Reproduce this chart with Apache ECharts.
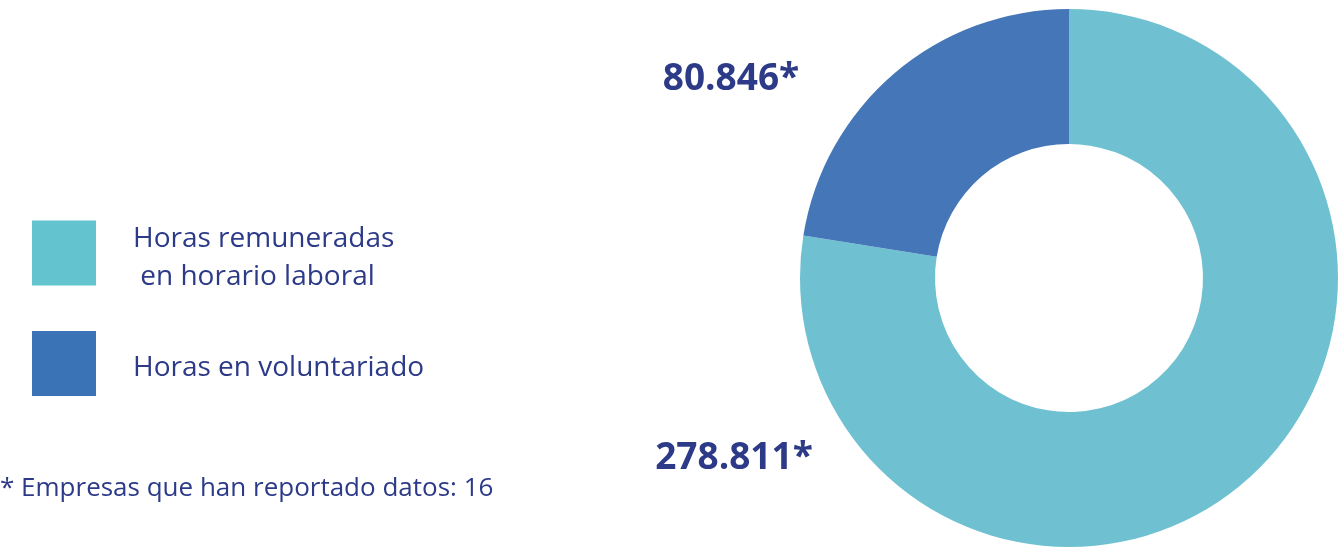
<!DOCTYPE html>
<html>
<head>
<meta charset="utf-8">
<script src="https://cdn.jsdelivr.net/npm/echarts@6/dist/echarts.min.js"></script>
<style>
  html, body { margin: 0; padding: 0; background: #ffffff; }
  #container { width: 1344px; height: 547px; }
</style>
</head>
<body>
<div id="container"></div>
<script>
// datos
var categorias = ['Horas remuneradas\n en horario laboral', 'Horas en voluntariado'];
var horas = [278811, 80846];
var coloresSector = ['#6fc1d2', '#4577b8'];
var coloresLeyenda = ['#63c3cf', '#3b73b7'];
var nota = '* Empresas que han reportado datos: 16';

var textoAzul = '#2c3a88';

// posiciones de las etiquetas de valor (a la izquierda del donut)
var posEtiquetas = [
    { x: 734, y: 458 },
    { x: 731, y: 79 }
];

// cuadrado de la leyenda con un punto vacio debajo, asi el texto queda un poco mas bajo
var iconoLeyenda = 'path://M0,0h64v65h-64zM0,75h0';

function formatoMiles(v) {
    return String(v).replace(/\B(?=(\d{3})+(?!\d))/g, '.') + '*';
}

var chart = echarts.init(document.getElementById('container'));

var option = {
    backgroundColor: '#ffffff',
    animation: false,
    title: {
        text: nota,
        left: 0,
        top: 476,
        padding: 0,
        textStyle: {
            color: textoAzul,
            fontFamily: 'Open Sans',
            fontSize: 26,
            fontWeight: 'normal'
        }
    },
    legend: {
        orient: 'vertical',
        left: 32,
        top: 220,
        padding: 0,
        icon: iconoLeyenda,
        itemWidth: 64,
        itemHeight: 75,
        itemGap: 35,
        selectedMode: false,
        data: categorias.map(function (c, i) {
            return { name: c, itemStyle: { color: coloresLeyenda[i], borderWidth: 0 } };
        }),
        textStyle: {
            color: textoAzul,
            fontFamily: 'Open Sans',
            fontSize: 28,
            lineHeight: 38,
            padding: [0, 0, 0, 32]
        }
    },
    series: [
        {
            type: 'pie',
            center: [1069, 278],
            radius: [134, 269],
            startAngle: 90,
            clockwise: true,
            silent: true,
            data: categorias.map(function (c, i) {
                return { name: c, value: horas[i], itemStyle: { color: coloresSector[i] } };
            }),
            label: {
                show: true,
                formatter: function (p) { return formatoMiles(p.value); },
                color: textoAzul,
                fontFamily: 'Open Sans',
                fontWeight: 'bold',
                fontSize: 37,
                overflow: 'none',
                width: 300
            },
            labelLine: { show: false },
            labelLayout: function (params) {
                var pos = posEtiquetas[params.dataIndex];
                return { x: pos.x, y: pos.y, align: 'center', verticalAlign: 'middle' };
            }
        }
    ]
};

chart.setOption(option);
</script>
</body>
</html>
